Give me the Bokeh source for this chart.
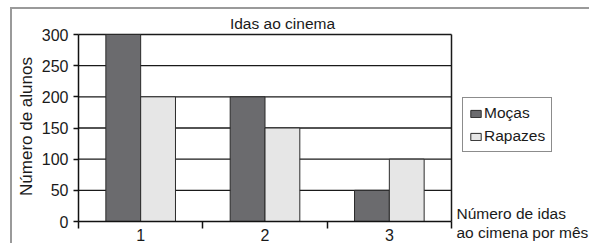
import math
from bokeh.plotting import figure
from bokeh.models import Range1d, FixedTicker, Label, Legend, LegendItem, ColumnDataSource
from bokeh.transform import dodge
from bokeh.embed import file_html
from bokeh.resources import INLINE

categories = [1, 2, 3]
tick_labels = ["1", "2", "3"]
mocas = [300, 200, 50]
rapazes = [200, 150, 100]
series_names = ["Moças", "Rapazes"]
y_ticks = [0, 50, 100, 150, 200, 250, 300]

FONT = "Liberation Sans"
INK = "#1a1a1a"

# layout constants (pixels on the page)
OX, OY = 12, 9                      # canvas origin on the page (after CSS margin+border)
W, H = 591 - OX, 245 - OY
PLOT_L, PLOT_R, PLOT_T, PLOT_B = 78, 451, 34, 221   # data area on the page
x_lo = categories[0] - 0.5
x_hi = categories[-1] + 0.5
px_per_x = (PLOT_R - PLOT_L) / (x_hi - x_lo)
y_top = y_ticks[-1]
px_per_y = (PLOT_B - PLOT_T) / y_top


def X(page_x):
    return x_lo + (page_x - PLOT_L) / px_per_x


def Y(page_y):
    return (PLOT_B - page_y) / px_per_y


source = ColumnDataSource(dict(x=categories, mocas=mocas, rapazes=rapazes))

# the frame covers the whole canvas; axes sit at fixed locations inside it
p = figure(width=W, height=H, output_backend="svg", toolbar_location=None,
           x_range=Range1d(X(OX), X(OX + W)), y_range=Range1d(Y(OY + H), Y(OY)),
           min_border_left=0, min_border_right=0, min_border_top=0, min_border_bottom=0)
p.styles = {"margin-left": "10px", "margin-top": "7px",
            "border-top": "2px solid #9a9a9a", "border-left": "2px solid #9a9a9a"}

# grid lines and right border of the plot area
grid_y = y_ticks[1:]
p.segment(x0=[x_lo] * len(grid_y), x1=[x_hi] * len(grid_y), y0=grid_y, y1=grid_y,
          line_color=INK, line_width=1.3)
p.segment(x0=[x_hi], x1=[x_hi], y0=[0], y1=[y_top], line_color=INK, line_width=1.5)

r1 = p.vbar(x=dodge('x', -0.14), top='mocas', width=0.28, source=source,
            fill_color="#6b6b6e", line_color="#2a2a2a", line_width=1)
r2 = p.vbar(x=dodge('x', 0.14), top='rapazes', width=0.28, source=source,
            fill_color="#e6e6e6", line_color="#2a2a2a", line_width=1)

# axes
p.xaxis.fixed_location = 0
p.yaxis.fixed_location = x_lo
p.xaxis.bounds = (x_lo, x_hi)
p.xaxis.ticker = FixedTicker(ticks=categories,
                             minor_ticks=[c - 0.5 for c in categories] + [x_hi])
p.xaxis.major_label_overrides = {c: t for c, t in zip(categories, tick_labels)}
p.xaxis.major_tick_out = 0
p.xaxis.major_tick_in = 0
p.xaxis.minor_tick_out = 7
p.xaxis.minor_tick_in = 0
p.xaxis.major_label_standoff = 0
p.yaxis.bounds = (0, y_top)
p.yaxis.ticker = FixedTicker(ticks=y_ticks)
p.yaxis.major_tick_out = 5
p.yaxis.major_tick_in = 0
p.yaxis.major_label_standoff = 5
for ax in (p.xaxis, p.yaxis):
    ax.axis_line_color = "#111111"
    ax.axis_line_width = 1.5
    ax.major_tick_line_color = "#111111"
    ax.major_tick_line_width = 1.5
    ax.minor_tick_line_width = 1.5
    ax.major_label_text_font = FONT
    ax.major_label_text_font_size = "16px"
    ax.major_label_text_color = INK
p.xaxis.minor_tick_line_color = "#111111"
p.yaxis.minor_tick_line_color = None

p.xgrid.grid_line_color = None
p.ygrid.grid_line_color = None
p.outline_line_color = None
p.background_fill_color = "white"
p.border_fill_color = "white"

# y axis title (rotated)
p.add_layout(Label(x=X(26), y=Y(126), text="Número de alunos", angle=math.pi / 2,
                   text_align="center", text_baseline="middle", text_font_size="17px",
                   text_font=FONT, text_color=INK))
# title
p.add_layout(Label(x=X(282), y=Y(23), text="Idas ao cinema", text_align="center",
                   text_baseline="alphabetic", text_font_size="15.5px", text_font=FONT,
                   text_color=INK))
# x axis label
p.add_layout(Label(x=X(456), y=Y(204), text="Número de idas\nao cimena por mês",
                   text_align="left", text_baseline="top", text_font_size="15.5px",
                   text_font=FONT, text_color=INK, text_line_height=1.15))

legend = Legend(items=[LegendItem(label=series_names[0], renderers=[r1]),
                       LegendItem(label=series_names[1], renderers=[r2])],
                location=(462 - OX, OY + H - 152), padding=6, spacing=5, label_height=16,
                glyph_width=13, glyph_height=9, label_standoff=2,
                label_text_font=FONT, label_text_font_size="15.5px", label_text_color=INK,
                border_line_color=INK, border_line_width=1.5, margin=0,
                background_fill_color="white")
p.add_layout(legend)

open("out.html", "w").write(file_html(p, INLINE))
